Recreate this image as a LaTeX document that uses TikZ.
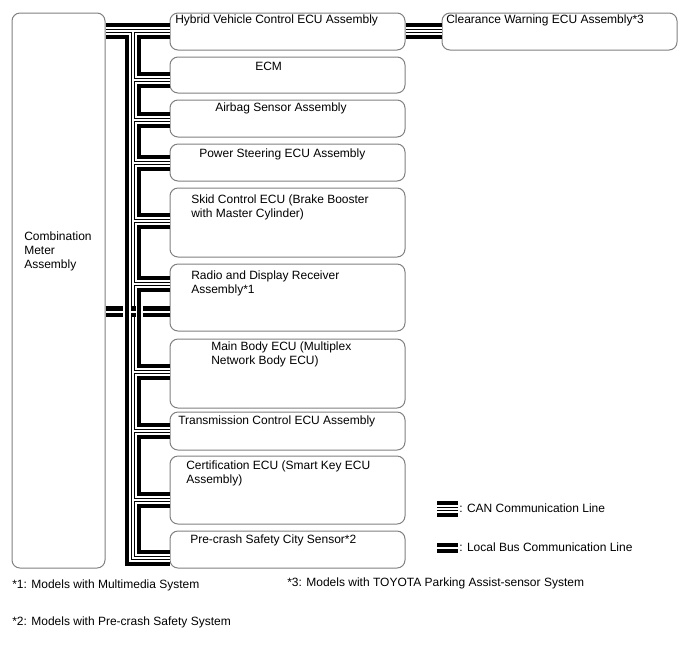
\documentclass[tikz,border=0pt]{standalone}
\usepackage{fontspec}
\setmainfont{Liberation Sans}
\usetikzlibrary{calc,fit,positioning}
\newcommand{\canrun}[1]{\foreach \lw/\lc in {12pt/black,6pt/white,2.6pt/black,0.95pt/white}{\draw[line width=\lw,\lc] #1;}}
\newcommand{\localrun}[1]{\foreach \lw/\lc in {8pt/black,1.5pt/white}{\draw[line width=\lw,\lc] #1;}}
\newcommand{\ecu}[3]{\node[unit,fit={#2 #3}] (#1) {};}

\begin{document}
\begin{tikzpicture}[x=0.75pt,y=-0.75pt,
  unit/.style={draw=black!50,line width=0.75pt,rounded corners=6pt,inner sep=0pt},
  txt/.style={anchor=north west,inner sep=0pt,align=left,font=\fontsize{9}{10.5}\selectfont}]
\useasboundingbox (0,0) rectangle (688,658);
\ecu{meter}{(12,13)}{(105,568)}
\ecu{hv}{(170,13)}{(405,50)}
\ecu{ecm}{(170,57)}{(405,93)}
\ecu{air}{(170,100)}{(405,137)}
\ecu{eps}{(170,144)}{(405,181)}
\ecu{skid}{(170,188)}{(405,257)}
\ecu{radio}{(170,264)}{(405,331)}
\ecu{body}{(170,339)}{(405,408)}
\ecu{tcm}{(170,412)}{(405,450)}
\ecu{cert}{(170,456)}{(405,524)}
\ecu{pcs}{(170,531)}{(405,568)}
\ecu{cw}{(442,13)}{(677,50)}

\node[txt] (t-meter) at (24,232) {Combination\\Meter\\Assembly};
\node[txt] (t-hv) at (175,15) {Hybrid Vehicle Control ECU Assembly};
\node[txt] (t-ecm) at (255,62) {ECM};
\node[txt] (t-air) at (215,103) {Airbag Sensor Assembly};
\node[txt] (t-eps) at (199,149) {Power Steering ECU Assembly};
\node[txt] (t-skid) at (191,195) {Skid Control ECU (Brake Booster\\with Master Cylinder)};
\node[txt] (t-radio) at (191,271) {Radio and Display Receiver\\Assembly*1};
\node[txt] (t-body) at (211,342) {Main Body ECU (Multiplex\\Network Body ECU)};
\node[txt] (t-tcm) at (178,416) {Transmission Control ECU Assembly};
\node[txt] (t-cert) at (186,461) {Certification ECU (Smart Key ECU\\Assembly)};
\node[txt] (t-pcs) at (190,535) {Pre-crash Safety City Sensor*2};
\node[txt] (t-cw) at (446,15) {Clearance Warning ECU Assembly*3};

\coordinate (bus-top) at (133,31);
\coordinate (bus-end) at (133,558);
\foreach \n/\y in {ecm/80,air/120,eps/163,skid/221,radio/284,body/372,tcm/431,cert/500}
  \coordinate (br-\n) at (133,\y);
\canrun{(meter.east |- bus-top) -- (hv.west |- bus-top)
  (hv.east |- bus-top) -- (cw.west |- bus-top)
  (bus-top) -- (bus-end) -- (bus-end -| pcs.west)
  foreach \n in {ecm,air,eps,skid,radio,body,tcm,cert}{(br-\n) -- (br-\n -| radio.west)}}

\coordinate (lb-l) at (123,311.5);
\coordinate (lb-ml) at (130.5,311.5);
\coordinate (lb-mr) at (135.5,311.5);
\coordinate (lb-r) at (143,311.5);
\localrun{(meter.east |- lb-l) -- (lb-l) (lb-ml) -- (lb-mr) (lb-r) -- (radio.west |- lb-r)}

\begin{scope}
\coordinate (can-a) at (437,509);
\coordinate (can-b) at (458,509);
\coordinate (loc-a) at (437,548);
\coordinate (loc-b) at (458,548);
\canrun{(can-a) -- (can-b)}
\localrun{(loc-a) -- (loc-b)}
\node[txt,anchor=west] (can-t) at (459,508) {: CAN Communication Line};
\node[txt,anchor=west] (loc-t) at (459,547) {: Local Bus Communication Line};
\end{scope}

\node[txt] (n1) at (12,580) {*1: Models with Multimedia System};
\node[txt] (n3) at (287,578) {*3: Models with TOYOTA Parking Assist-sensor System};
\node[txt] (n2) at (12,617) {*2: Models with Pre-crash Safety System};
\end{tikzpicture}
\end{document}
